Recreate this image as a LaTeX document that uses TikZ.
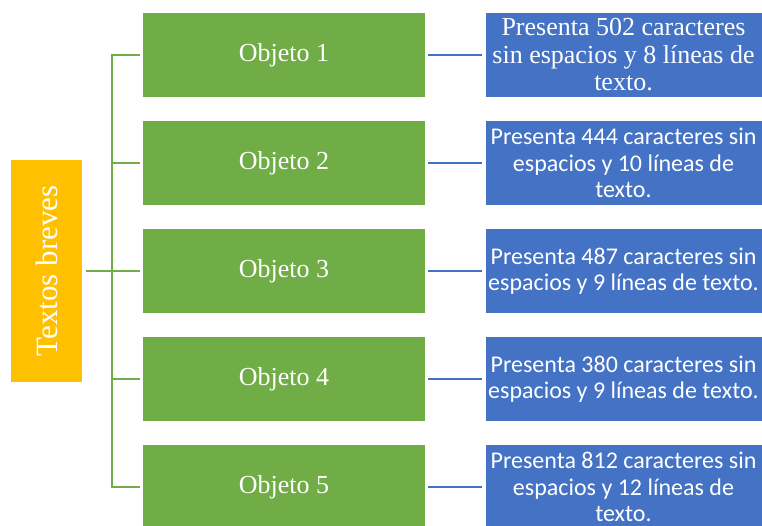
\documentclass[tikz,border=0pt]{standalone}
\usepackage{fontspec}
\usepackage{tikz}
\setmainfont{Liberation Serif}
\newfontfamily\calibrifont{Carlito}

\definecolor{rootfill}{HTML}{FFC000}
\definecolor{objfill}{HTML}{70AD47}
\definecolor{notefill}{HTML}{4472C4}

\tikzset{
  rootbox/.style={fill=rootfill, text=white, minimum width=71pt, minimum height=221pt, inner sep=0pt, font=\fontsize{31pt}{33pt}\selectfont},
  objbox/.style={fill=objfill, text=white, minimum width=282pt, minimum height=84pt, inner sep=0pt, font=\fontsize{26pt}{28pt}\selectfont},
  notebox/.style={fill=notefill, text=white, minimum width=276pt, minimum height=84pt, inner sep=0pt, font=\fontsize{26pt}{27.5pt}\selectfont},
  notesans/.style={notebox, font=\calibrifont\fontsize{24pt}{26.5pt}\selectfont}
}

\begin{document}
\begin{tikzpicture}[every text node part/.style={align=center}, grow'=right,
level 1/.style={level distance=237.5pt, sibling distance=108pt,
  edge from parent/.style={draw=objfill, line width=2.2pt},
  edge from parent path={([xshift=4pt]\tikzparentnode.east) -- ++(26pt,0) |- ([xshift=-3pt]\tikzchildnode.west)}},
level 2/.style={level distance=339.5pt,
  edge from parent/.style={draw=notefill, line width=2.2pt},
  edge from parent path={([xshift=3pt]\tikzparentnode.east) -- ([xshift=-3pt]\tikzchildnode.west)}}]
\useasboundingbox (0,0) rectangle (762pt,-526pt);
\node [rootbox] (root) at (46.5pt,-271pt) {\rotatebox{90}{Textos breves}}
	      child{ node [objbox] (obj1) {Objeto 1}
	      		    child{ node [notebox] (txt1) {Presenta 502 caracteres\\sin espacios y 8 líneas de\\texto.}}}
	      child{ node [objbox] (obj2) {Objeto 2}
	      		    child{ node [notesans] (txt2) {Presenta 444 caracteres sin\\espacios y 10 líneas de\\texto.}}}
	      child{ node [objbox] (obj3) {Objeto 3}
	      		    child{ node [notesans] (txt3) {Presenta 487 caracteres sin\\espacios y 9 líneas de texto.}}}
	      child{ node [objbox] (obj4) {Objeto 4}
	      		    child{ node [notesans] (txt4) {Presenta 380 caracteres sin\\espacios y 9 líneas de texto.}}}
	      child{ node [objbox] (obj5) {Objeto 5}
	      		    child{ node [notesans] (txt5) {Presenta 812 caracteres sin\\espacios y 12 líneas de\\texto.}}};
\end{tikzpicture}
\end{document}
